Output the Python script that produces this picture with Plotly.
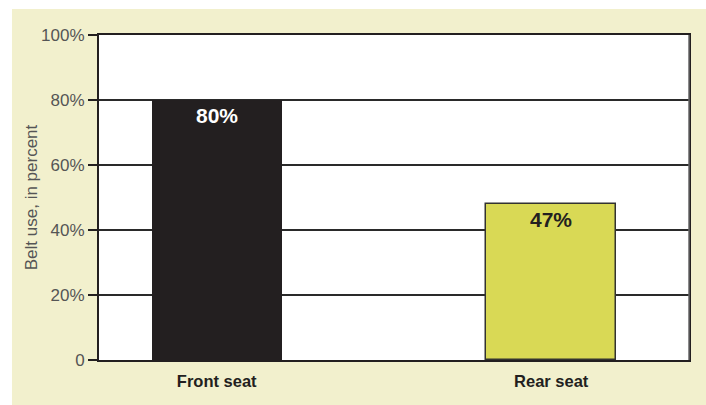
import plotly.graph_objects as go

categories = ["Front seat", "Rear seat"]
values = [80, 48]
labels = ["80%", "47%"]
bar_colors = ["#231f20", "#d9d955"]
label_colors = ["#ffffff", "#231f20"]
y_tickvals = [0, 20, 40, 60, 80, 100]
y_ticktext = ["0", "20%", "40%", "60%", "80%", "100%"]

xs = list(range(len(categories)))
FONT = "Liberation Sans, Arial, Helvetica, sans-serif"

fig = go.Figure()
fig.add_trace(go.Bar(
    x=xs, y=values, width=0.388,
    marker=dict(color=bar_colors, line=dict(color=["#231f20", "#333330"], width=[0, 1.5])),
    hoverinfo="skip", showlegend=False,
))

annotations = []
for xi, v, t, c in zip(xs, values, labels, label_colors):
    annotations.append(dict(x=xi, y=v, text="<b>%s</b>" % t, showarrow=False,
                            yanchor="top", yshift=-2,
                            font=dict(family=FONT, size=21, color=c)))
annotations.append(dict(xref="paper", yref="paper", x=-0.114, y=0.5, text="Belt use, in percent",
                        textangle=-90, showarrow=False, xanchor="center", yanchor="middle",
                        font=dict(family=FONT, size=17, color="#555555")))

shapes = [
    dict(type="rect", xref="paper", yref="paper", x0=-0.2, x1=1.1, y0=1.08, y1=1.2,
         fillcolor="white", line=dict(width=0), layer="below"),
    dict(type="rect", xref="paper", yref="paper", x0=-0.2, x1=-0.1475, y0=-0.2, y1=1.2,
         fillcolor="white", line=dict(width=0), layer="below"),
    dict(type="line", xref="paper", yref="paper", x0=1, x1=1, y0=0, y1=1,
         line=dict(color="#666666", width=1.5)),
]

fig.update_layout(
    width=706, height=405,
    margin=dict(l=99, r=17, t=35, b=45),
    paper_bgcolor="#f2f0cd",
    plot_bgcolor="white",
    annotations=annotations,
    shapes=shapes,
    bargap=0,
    xaxis=dict(
        range=[-0.352, 1.412],
        tickvals=xs, ticktext=["<b>%s</b>" % c for c in categories],
        tickfont=dict(family=FONT, size=16.5, color="#231f20"),
        ticklabelstandoff=5,
        showgrid=False, zeroline=False,
        showline=True, linecolor="#231f20", linewidth=2, mirror=True,
        ticks="", fixedrange=True,
    ),
    yaxis=dict(
        range=[0, 100],
        tickvals=y_tickvals, ticktext=y_ticktext,
        tickfont=dict(family=FONT, size=17, color="#555555"),
        showgrid=True, gridcolor="#2a2a2a", gridwidth=1.5,
        zeroline=False,
        showline=True, linecolor="#231f20", linewidth=2, mirror=True,
        ticks="outside", ticklen=9, tickwidth=1.5, tickcolor="#231f20",
        fixedrange=True,
    ),
)

fig.write_html("out.html", config={"displayModeBar": False},
               post_script="document.body.style.margin='0px';")
